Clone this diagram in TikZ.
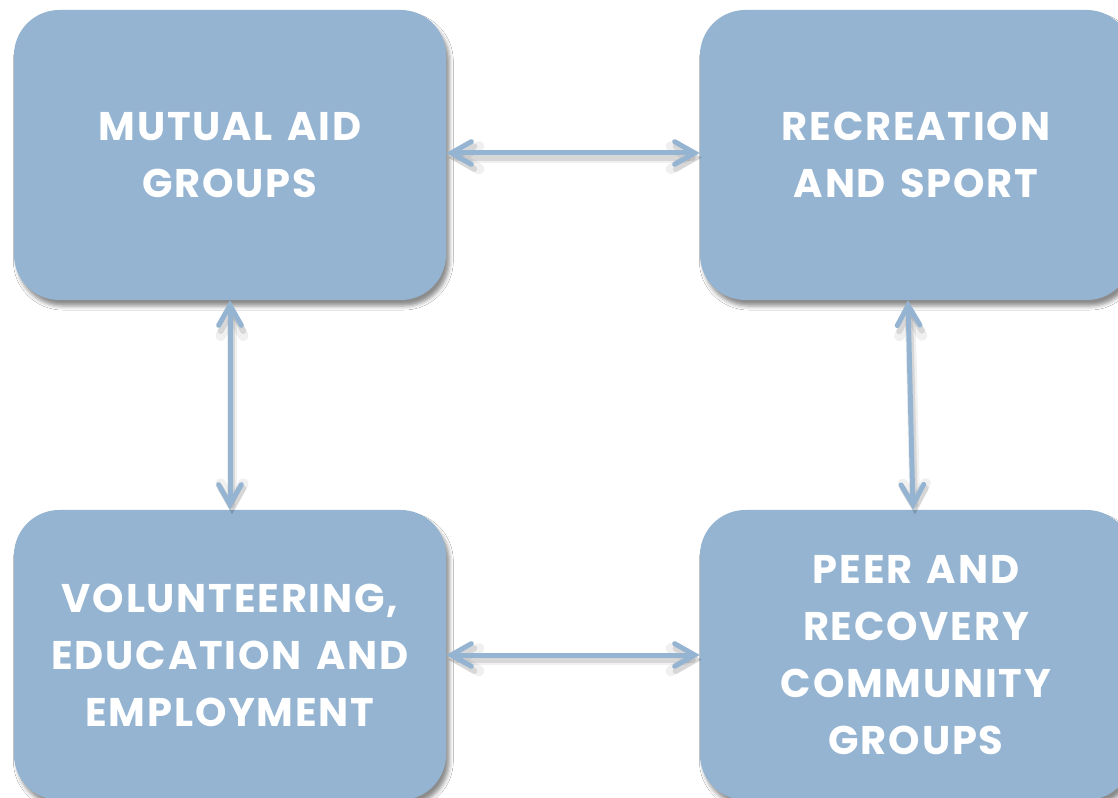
\documentclass[tikz,border=0pt]{standalone}
\usepackage{fontspec}
\setmainfont{Poppins}[LetterSpace=4.5,WordSpace=1.4]
\usetikzlibrary{arrows.meta,calc,shadows.blur}
\definecolor{boxblue}{RGB}{148,180,210}

\tikzset{
  topic/.style={
    rectangle, rounded corners=34pt, fill=boxblue, draw=none,
    text=white, align=center,
    minimum width=324pt, minimum height=217.5pt,
    font=\fontsize{30}{42.75}\selectfont\bfseries,
    blur shadow={shadow xshift=2.5pt, shadow yshift=-4.5pt,
                 shadow blur radius=3pt, shadow opacity=45}
  },
  link/.style={
    draw=boxblue, line width=3.75pt, line cap=round,
    {Straight Barb[length=15pt,width=17pt,line cap=round]}-{Straight Barb[length=15pt,width=17pt,line cap=round]}
  },
  linkshade/.style={
    draw=black, line cap=round, opacity=#1,
    {Straight Barb[length=15pt,width=17pt,line cap=round]}-{Straight Barb[length=15pt,width=17pt,line cap=round]},
    transform canvas={shift={(1.5pt,-3.5pt)}}
  }
}

\begin{document}
\begin{tikzpicture}[x=0.75pt,y=-0.75pt]
  % page frame
  \fill[white] (0,0) rectangle (1118,798);
  \useasboundingbox (0,0) rectangle (1118,798);

  % the four areas
  \node[topic] (aid) at (230,155) {MUTUAL AID\\GROUPS};
  \node[topic] (sport) at (916,155) {RECREATION\\AND SPORT};
  \node[topic] (work) at (230,655) {VOLUNTEERING,\\EDUCATION AND\\EMPLOYMENT};
  \node[topic] (peer) at (916,655) {PEER AND\\RECOVERY\\COMMUNITY\\GROUPS};

  % link end points
  \coordinate (aidE) at ($(aid.east)+(0,-2)$);
  \coordinate (sportW) at ($(sport.west)+(0,-2)$);
  \coordinate (sportS) at ($(sport.south)+(-8,0)$);
  \coordinate (peerN) at ($(peer.north)+(-3,0)$);
  \coordinate (workE) at ($(work.east)+(0,0)$);
  \coordinate (peerW) at ($(peer.west)+(0,0)$);

  % soft shadows under the links
  \foreach \a/\b in {aidE/sportW, aid.south/work.north, sportS/peerN, workE/peerW}{
    \draw[linkshade=0.06, line width=8pt] (\a) -- (\b);
    \draw[linkshade=0.10, line width=4.5pt] (\a) -- (\b);
  }

  % two-way links
  \draw[link] (aidE) -- (sportW);
  \draw[link] (aid.south) -- (work.north);
  \draw[link] (sportS) -- (peerN);
  \draw[link] (workE) -- (peerW);
\end{tikzpicture}
\end{document}
